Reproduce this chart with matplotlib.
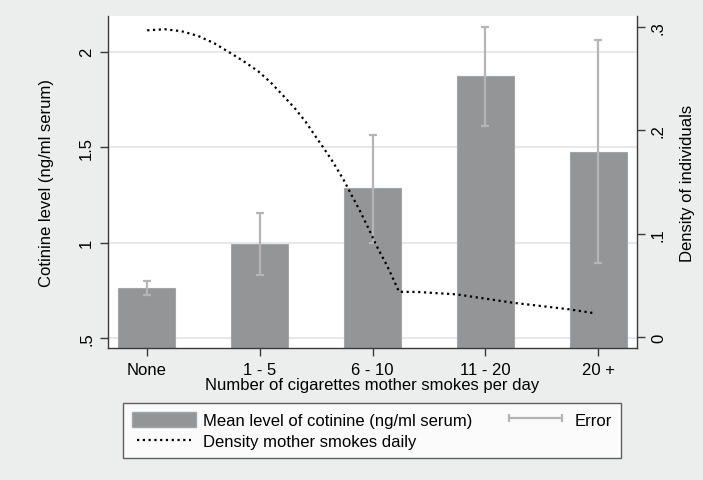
import matplotlib
matplotlib.use("Agg")
import matplotlib.pyplot as plt
import numpy as np
from matplotlib.lines import Line2D
from matplotlib.patches import Patch

plt.rcParams["font.family"] = ["Liberation Sans", "DejaVu Sans"]
plt.rcParams["font.size"] = 12

categories = ["None", "1 - 5", "6 - 10", "11 - 20", "20 +"]
mean_cotinine = [0.762, 0.993, 1.285, 1.872, 1.476]
err_low = [0.725, 0.832, 0.997, 1.613, 0.893]
err_high = [0.799, 1.155, 1.564, 2.132, 2.063]

# density curve (x in category-index units)
dens_x = [0.005, 0.162, 0.310, 0.457, 0.598, 0.731, 0.855, 0.988, 1.097, 1.209,
          1.312, 1.407, 1.489, 1.549, 1.637, 1.740, 1.814, 1.888, 1.967, 2.050,
          2.129, 2.197, 2.235, 2.400, 2.743, 3.244, 3.746, 3.952]
dens_y = [0.2965, 0.2975, 0.2956, 0.2910, 0.2840, 0.2753, 0.2669, 0.2569, 0.2463, 0.2334,
          0.2212, 0.2083, 0.1951, 0.1857, 0.1715, 0.1529, 0.1374, 0.1223, 0.1046, 0.0853,
          0.0692, 0.0531, 0.0440, 0.0438, 0.0415, 0.0334, 0.0270, 0.0235]

left_ticks = [0.5, 1.0, 1.5, 2.0]
left_labels = [".5", "1", "1.5", "2"]
right_ticks = [0.0, 0.1, 0.2, 0.3]
right_labels = ["0", ".1", ".2", ".3"]

BG = "#eceeed"
BAR = "#949597"
ERR = "#b5b5b5"
AXC = "#3a3a3a"

fig = plt.figure(figsize=(7.03, 4.81), dpi=100, facecolor=BG)
ax = fig.add_axes([108 / 703, 1 - 349 / 481, (637 - 108) / 703, (349 - 17) / 481])
ax.set_facecolor("white")

x = np.arange(len(categories))
ax.bar(x, mean_cotinine, width=0.5, color=BAR, edgecolor="#a4a5a7", linewidth=0.8, zorder=2)
yerr = [np.array(mean_cotinine) - np.array(err_low), np.array(err_high) - np.array(mean_cotinine)]
ax.errorbar(x, mean_cotinine, yerr=yerr, fmt="none", ecolor=ERR, elinewidth=1.6,
            capsize=3, capthick=1.6, zorder=3)

ax.set_xlim(-0.342, 4.342)
ax.set_ylim(0.448, 2.187)
ax.set_yticks(left_ticks)
ax.set_yticklabels(left_labels, rotation=90, va="center")
ax.set_xticks(x)
ax.set_xticklabels(categories)
ax.yaxis.grid(True, color="#e6e6e6", linewidth=1.3, zorder=0)
ax.set_axisbelow(True)
ax.set_ylabel("Cotinine level (ng/ml serum)", labelpad=18)
ax.set_xlabel("Number of cigarettes mother smokes per day", labelpad=0)

for side in ["top", "right"]:
    ax.spines[side].set_visible(False)
for side in ["left", "bottom"]:
    ax.spines[side].set_color(AXC)
    ax.spines[side].set_linewidth(1.0)
ax.tick_params(axis="both", direction="out", length=6, width=1.0, color=AXC, pad=4)

ax2 = ax.twinx()
ax2.plot(dens_x, dens_y, color="black", linewidth=1.6, linestyle=(0, (1, 1.6)), zorder=4)
ax2.set_ylim(-0.0103, 0.3103)
ax2.set_yticks(right_ticks)
ax2.set_yticklabels(right_labels, rotation=90, va="center")
ax2.set_ylabel("Density of individuals", labelpad=10)
for side in ["top", "left", "bottom"]:
    ax2.spines[side].set_visible(False)
ax2.spines["right"].set_color(AXC)
ax2.spines["right"].set_linewidth(1.0)
ax2.tick_params(axis="y", direction="out", length=6, width=1.0, color=AXC, pad=4)

handles = [
    Patch(facecolor=BAR, edgecolor="#a4a5a7"),
    Line2D([], [], color="black", linewidth=1.6, linestyle=(0, (1, 1.6))),
    Line2D([], [], color=ERR, linewidth=1.6, marker="|", markersize=6, markeredgewidth=1.6),
]
labels = ["Mean level of cotinine (ng/ml serum)", "Density mother smokes daily", "Error"]
leg = fig.legend(handles, labels, loc="upper left", ncol=2, mode="expand",
                 bbox_to_anchor=(123.3 / 703, 0.0472, (621.3 - 123.3) / 703, 1 - 403.7 / 481 - 0.0472),
                 borderaxespad=0, numpoints=2, handlelength=3.8, handleheight=1.0,
                 handletextpad=0.45, labelspacing=0.3, borderpad=0.55,
                 fancybox=False, frameon=True)
leg.get_frame().set_edgecolor(AXC)
leg.get_frame().set_linewidth(1.0)

fig.savefig("out.png", dpi=100, facecolor=BG)
